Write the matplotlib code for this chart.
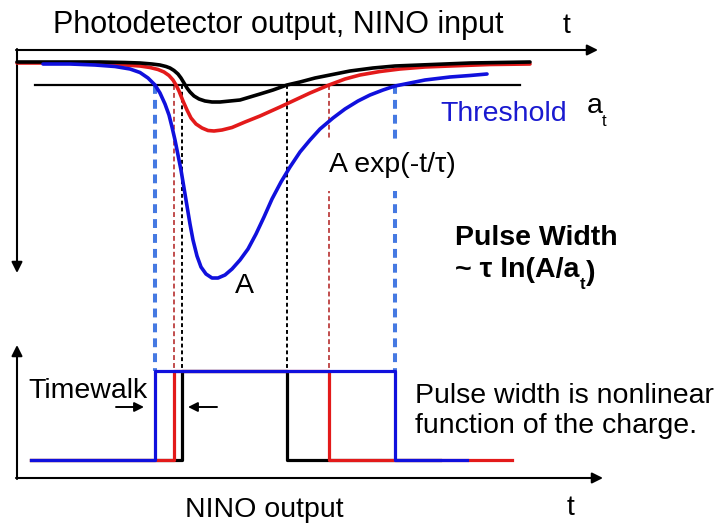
"""
NINO time-over-threshold diagram: photodetector pulses and discriminator output
"""
import matplotlib.pyplot as plt

plt.rcParams['font.family'] = ['Liberation Sans', 'DejaVu Sans']

# analog pulses (time, signal), canvas units, y grows downward
black_t = [17, 60, 100, 125, 140, 152, 160, 166, 170, 174, 178, 181, 184, 187, 190, 194, 199, 205, 212,
           220, 230, 240, 250, 260, 273, 287, 300, 315, 330, 350, 373, 395, 420, 445, 470, 500, 530]
black_v = [62, 62, 62, 62.5, 63, 64, 65, 66.5, 68, 70.5, 74, 78, 83, 88, 92, 96, 99, 101, 102,
           102, 101, 100, 97, 94, 90, 85, 82, 78, 75, 71, 68, 66, 65, 64, 63, 62.5, 62]

red_t = [17, 60, 100, 125, 140, 150, 158, 164, 169, 173, 176, 179, 183, 187, 191, 196, 202, 208, 214,
         222, 232, 245, 260, 280, 295, 310, 329, 345, 360, 380, 400, 425, 450, 490, 530]
red_v = [63, 63, 64, 65, 66, 67.5, 69.5, 72, 75.5, 80, 85, 91, 101, 110, 118, 124, 128, 130.5, 131,
         130, 127.5, 122, 116, 107, 100, 93, 85, 79, 75, 71.5, 69, 67, 66, 64.5, 64]

blue_t = [43, 70, 95, 115, 130, 140, 148, 155, 160, 165, 169, 172, 175, 178, 181, 184, 187, 190, 193,
          197, 201, 206, 212, 218, 225, 232, 240, 248, 256, 264, 272, 281, 290, 300, 310, 320, 333,
          345, 358, 370, 383, 395, 410, 425, 450, 470, 487]
blue_v = [64, 64, 65, 66.5, 69, 72.5, 78, 85, 93, 104, 115, 127, 140, 155, 170, 188, 206, 224, 240,
          256, 267, 274, 278, 278, 275, 269, 260, 249, 234, 217, 199, 182, 167, 152, 140, 129, 118,
          109, 101, 95, 90, 86, 83, 80, 77, 75.5, 74]

threshold = 85
thr_span = [35, 520]

# discriminator edges: where each pulse crosses threshold
rise = {"black": 182, "red": 174, "blue": 155}
fall = {"black": 287, "red": 329, "blue": 395}
trace_end = {"black": 440, "red": 512, "blue": 467}
trace_start = 31
out_low, out_high = 460, 371

colors = {"black": "black", "red": "#e31a1a", "blue": "#1010dd"}
dash_colors = {"black": "black", "red": "#b01c1c", "blue": "#4579e2"}
dash_lw = {"black": 1.4, "red": 1.1, "blue": 2.9}
dash_pat = {"black": (0, (2.0, 1.5)), "red": (0, (3.2, 2.0)), "blue": (0, (2.2, 1.5))}

fig = plt.figure(figsize=(7.24, 5.24), dpi=100)
ax = fig.add_axes([0, 0, 1, 1])
ax.set_xlim(0, 724)
ax.set_ylim(524, 0)
ax.axis('off')

arrow = dict(arrowstyle='-|>', lw=1.5, color='black', mutation_scale=16, shrinkA=0, shrinkB=0)

# top axes
ax.annotate('', xy=(598, 50), xytext=(16, 50), arrowprops=arrow)
ax.annotate('', xy=(17, 273), xytext=(17, 49), arrowprops=arrow)
# bottom axes
ax.annotate('', xy=(603, 478), xytext=(16, 478), arrowprops=arrow)
ax.annotate('', xy=(17, 345), xytext=(17, 479), arrowprops=arrow)

# threshold
ax.plot(thr_span, [threshold, threshold], color='black', lw=1.6, zorder=3)

# crossing markers
for k in ["blue", "red", "black"]:
    ax.vlines([rise[k], fall[k]], threshold, out_high, colors=dash_colors[k],
              linewidth=dash_lw[k], linestyles=[dash_pat[k]], zorder=2)

# analog pulses
curve_style = dict(lw=2.6, solid_joinstyle='round', solid_capstyle='round')
ax.plot(red_t, red_v, color=colors["red"], zorder=4, **curve_style)
ax.plot(black_t, black_v, color=colors["black"], zorder=5, **curve_style)
ax.plot(blue_t, blue_v, color=colors["blue"], zorder=6, **curve_style)

# NINO output
for i, k in enumerate(["black", "red", "blue"]):
    xs = [trace_start, rise[k], rise[k], fall[k], fall[k], trace_end[k]]
    ys = [out_low, out_low, out_high, out_high, out_low, out_low]
    ax.plot(xs, ys, color=colors[k], lw=2.3, zorder=4 + i)

fs = 20.5
ax.text(53, 33, "Photodetector output, NINO input", fontsize=22, va='baseline')
ax.text(563, 33, "t", fontsize=fs, va='baseline')
ax.text(440, 121, "Threshold", fontsize=fs, va='baseline', color='#1a1ad0')
ax.text(587, 113, "a", fontsize=fs, va='baseline')
ax.text(602, 126, "t", fontsize=12, va='baseline')
ax.text(329, 172, "A exp(-t/τ)", fontsize=fs, va='baseline', zorder=7,
        bbox=dict(facecolor='white', edgecolor='none', pad=9))
ax.text(235, 293, "A", fontsize=fs, va='baseline', zorder=7)
ax.text(455, 245, "Pulse Width", fontsize=fs, va='baseline', fontweight='bold')
t1 = ax.text(455, 277, "~ τ ln(A/a", fontsize=fs, va='baseline', fontweight='bold')
t2 = ax.annotate("t", xy=(1, 0), xycoords=t1, xytext=(0.5, -4), textcoords='offset points',
                 fontsize=12, fontweight='bold', va='baseline')
ax.annotate(")", xy=(1, 0), xycoords=t2, xytext=(0, 4), textcoords='offset points',
            fontsize=fs, fontweight='bold', va='bottom')
ax.text(28, 398, "Timewalk", fontsize=fs, va='baseline')
small_arrow = dict(arrowstyle='-|>', lw=1.4, color='black', mutation_scale=14, shrinkA=0, shrinkB=0)
ax.annotate('', xy=(144, 407), xytext=(116, 407), arrowprops=small_arrow)
ax.annotate('', xy=(188, 407), xytext=(217, 407), arrowprops=small_arrow)
ax.text(415, 403, "Pulse width is nonlinear", fontsize=fs, va='baseline')
ax.text(415, 433, "function of the charge.", fontsize=fs, va='baseline')
ax.text(185, 517, "NINO output", fontsize=fs, va='baseline')
ax.text(567, 515, "t", fontsize=fs, va='baseline')

fig.savefig("out.png", dpi=100)
